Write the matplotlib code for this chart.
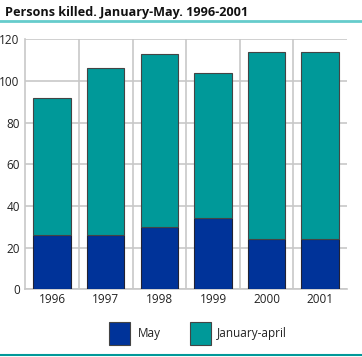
import matplotlib
matplotlib.use("Agg")
import matplotlib.pyplot as plt
from matplotlib.patches import Rectangle
from matplotlib.lines import Line2D

years = ["1996", "1997", "1998", "1999", "2000", "2001"]
may = [26, 26, 30, 34, 24, 24]
jan_april = [66, 80, 83, 70, 90, 90]
yticks = [0, 20, 40, 60, 80, 100, 120]

plt.rcParams['font.family'] = ['Open Sans', 'DejaVu Sans']

fig = plt.figure(figsize=(3.62, 3.57), dpi=100)
ax = fig.add_axes([0.0699, 0.1896, 0.8887, 0.7003])

x = list(range(len(years)))
c_may = "#003399"
c_ja = "#009999"
ax.bar(x, may, width=0.7, color=c_may, edgecolor="#222233", linewidth=0.8, zorder=3)
ax.bar(x, jan_april, bottom=may, width=0.7, color=c_ja, edgecolor="#444444", linewidth=0.8, zorder=3)

ax.set_xlim(-0.5, len(years) - 0.5)
ax.set_ylim(0, 120)
ax.set_yticks(yticks)
ax.set_yticklabels([str(v) for v in yticks], fontsize=8.5, color="#222222")
ax.set_xticks(x)
ax.set_xticklabels(years, fontsize=8.5, color="#222222")
ax.set_xticks([i + 0.5 for i in x[:-1]], minor=True)
ax.tick_params(axis='both', which='both', length=0)
ax.tick_params(axis='y', pad=4)
ax.tick_params(axis='x', pad=3)
ax.grid(axis='y', which='major', color="#c8c8c8", linewidth=1.2, zorder=0)
ax.grid(axis='x', which='minor', color="#c8c8c8", linewidth=1.2, zorder=0)
for s in ['top', 'right']:
    ax.spines[s].set_visible(False)
for s in ['left', 'bottom']:
    ax.spines[s].set_color("#c8c8c8")
    ax.spines[s].set_linewidth(1.2)

fig.text(0.014, 0.965, "Persons killed. January-May. 1996-2001", fontsize=9.1,
         fontweight='bold', ha='left', va='center', color="#111111")
fig.add_artist(Line2D([0, 1], [0.940, 0.940], color="#66cccc", linewidth=2.0, transform=fig.transFigure))
fig.add_artist(Line2D([0, 1], [0.006, 0.006], color="#009999", linewidth=1.5, transform=fig.transFigure))

# legend
W, H = 362.0, 357.0
def px(xp, yp):
    return xp / W, 1 - yp / H
x0, y0 = px(109, 345)
fig.add_artist(Rectangle((x0, y0), 21 / W, 23 / H, transform=fig.transFigure,
                         facecolor=c_may, edgecolor="#444444", linewidth=0.8))
tx, ty = px(138, 333.5)
fig.text(tx, ty, "May", fontsize=8.5, ha='left', va='center', color="#222222")
x1, y1 = px(190, 345)
fig.add_artist(Rectangle((x1, y1), 21 / W, 23 / H, transform=fig.transFigure,
                         facecolor=c_ja, edgecolor="#444444", linewidth=0.8))
tx, ty = px(217, 333.5)
fig.text(tx, ty, "January-april", fontsize=8.5, ha='left', va='center', color="#222222")

fig.savefig("out.png", dpi=100)
